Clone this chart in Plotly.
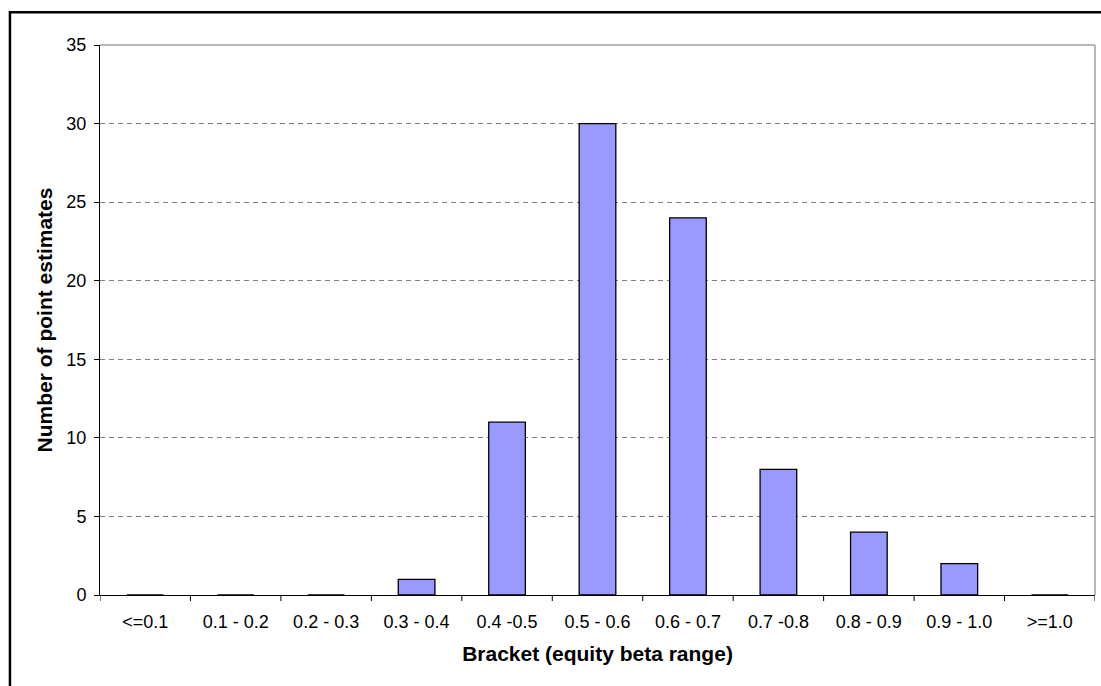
import plotly.graph_objects as go

# Histogram of equity beta point estimates by bracket
brackets = ["<=0.1", "0.1 - 0.2", "0.2 - 0.3", "0.3 - 0.4", "0.4 -0.5", "0.5 - 0.6",
            "0.6 - 0.7", "0.7 -0.8", "0.8 - 0.9", "0.9 - 1.0", ">=1.0"]
counts = [0, 0, 0, 1, 11, 30, 24, 8, 4, 2, 0]
y_ticks = [0, 5, 10, 15, 20, 25, 30, 35]

FONT = "Liberation Sans, Arial, sans-serif"

fig = go.Figure(
    go.Bar(
        x=list(range(len(brackets))),
        y=counts,
        marker=dict(color="#9999FF", line=dict(color="#000000", width=1.3)),
        width=0.405,
        hoverinfo="x+y",
    )
)

fig.update_layout(
    width=1101,
    height=686,
    margin=dict(l=100, r=6, t=45, b=91),
    paper_bgcolor="white",
    plot_bgcolor="white",
    showlegend=False,
    font=dict(family=FONT, size=18, color="black"),
    xaxis=dict(
        range=[-0.5, len(brackets) - 0.5],
        tickmode="array",
        tickvals=list(range(len(brackets))),
        ticktext=brackets,
        ticks="outside",
        ticklen=10,
        tickcolor="rgba(0,0,0,0)",
        showline=True,
        linecolor="black",
        linewidth=1,
        showgrid=False,
        zeroline=False,
        title=dict(text="<b>Bracket (equity beta range)</b>", font=dict(size=21), standoff=15),
        tickfont=dict(size=18),
    ),
    yaxis=dict(
        range=[0, 35],
        tickmode="array",
        tickvals=y_ticks,
        ticks="outside",
        ticklen=5,
        tickcolor="black",
        ticklabelstandoff=4,
        showline=True,
        linecolor="black",
        linewidth=1,
        showgrid=True,
        gridcolor="#808080",
        griddash="5px,4px",
        gridwidth=1,
        zeroline=False,
        title=dict(text="<b>Number of point estimates</b>", font=dict(size=21), standoff=8),
        tickfont=dict(size=18),
    ),
)

# Tick marks at the category boundaries on the x axis
for i in range(len(brackets) + 1):
    fig.add_shape(type="line", xref="x", yref="paper",
                  x0=i - 0.5, x1=i - 0.5, y0=0, y1=-0.011,
                  line=dict(color="black", width=1))

# Plot area frame: gray top and right edges
fig.add_shape(type="line", xref="paper", yref="paper", x0=0, x1=1, y0=1, y1=1,
              line=dict(color="#a0a0a0", width=1.5))
fig.add_shape(type="line", xref="paper", yref="paper", x0=1, x1=1, y0=0, y1=1,
              line=dict(color="#a0a0a0", width=1.5))

# Outer chart border
fig.add_shape(type="rect", xref="paper", yref="paper",
              x0=-0.0905, x1=1.03, y0=-0.2, y1=1.0595,
              line=dict(color="black", width=2.5), fillcolor="rgba(0,0,0,0)", layer="above")

fig.write_html("out.html")
